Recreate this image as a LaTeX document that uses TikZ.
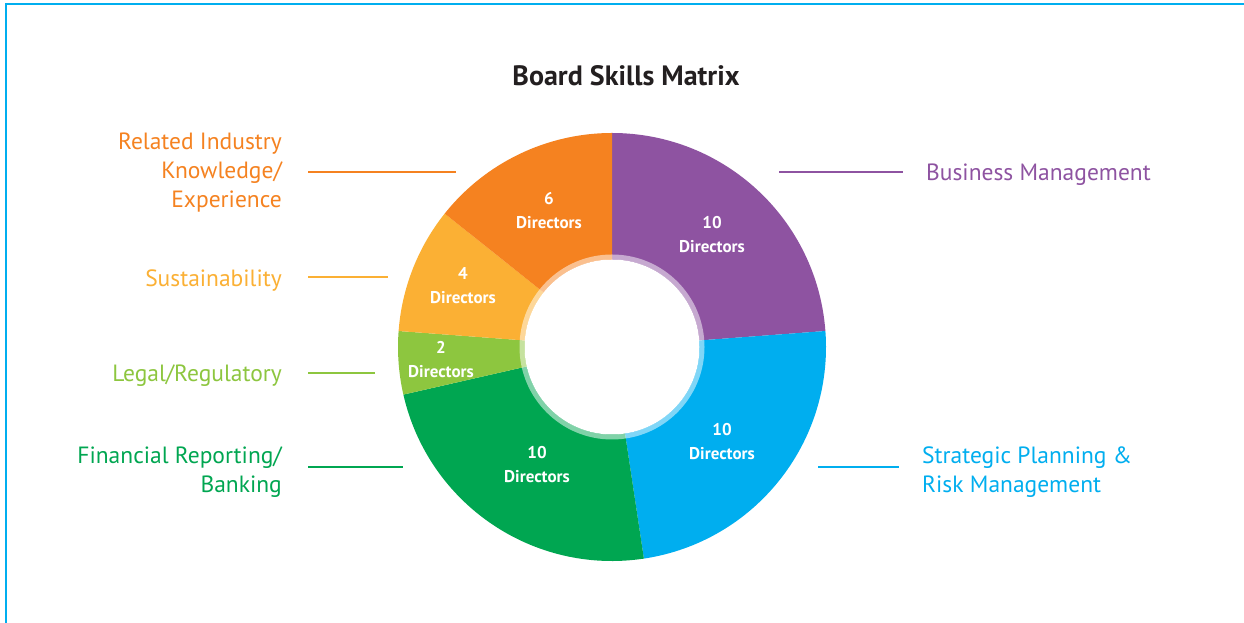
\documentclass[tikz,border=0pt]{standalone}
\usepackage{fontspec}
\setmainfont{PT Sans}
\definecolor{cPurple}{HTML}{8E53A1}
\definecolor{cBlue}{HTML}{00AEEF}
\definecolor{cGreen}{HTML}{00A651}
\definecolor{cLime}{HTML}{8DC63F}
\definecolor{cYellow}{HTML}{FBB034}
\definecolor{cOrange}{HTML}{F58220}
\definecolor{cFrame}{HTML}{00AEEF}
\definecolor{cTitle}{HTML}{231F20}
\tikzset{
  seglabel/.style={text=white, align=center, inner sep=0pt, font=\fontsize{17}{24}\selectfont\bfseries},
  catlabelL/.style={anchor=east, align=right, inner sep=0pt, font=\fontsize{23.5}{29}\selectfont},
  catlabelR/.style={anchor=west, align=left, inner sep=0pt, font=\fontsize{23.5}{29}\selectfont},
  leader/.style={line width=2pt},
  titlestyle/.style={text=cTitle, inner sep=0pt, font=\fontsize{28}{32}\selectfont\bfseries},
}
\begin{document}
\begin{tikzpicture}[x=1pt,y=1pt]
\useasboundingbox (0,0) rectangle (1244,623);
\fill[white] (0,0) rectangle (1244,623);
% frame
\coordinate (fA) at (6,0);
\coordinate (fB) at (6,619);
\coordinate (fC) at (1244,619);
\draw[cFrame, line width=2.2pt] (fA) -- (fB) -- (fC);
% donut
\coordinate (c) at (612,276);
\def\R{214}
\fill[cPurple] (c) -- ++(90:\R) arc[start angle=90, end angle=4.286, radius=\R] -- cycle;
\fill[cBlue] (c) -- ++(4.286:\R) arc[start angle=4.286, end angle=-81.429, radius=\R] -- cycle;
\fill[cGreen] (c) -- ++(-81.429:\R) arc[start angle=-81.429, end angle=-167.143, radius=\R] -- cycle;
\fill[cLime] (c) -- ++(-167.143:\R) arc[start angle=-167.143, end angle=-184.286, radius=\R] -- cycle;
\fill[cYellow] (c) -- ++(-184.286:\R) arc[start angle=-184.286, end angle=-218.571, radius=\R] -- cycle;
\fill[cOrange] (c) -- ++(-218.571:\R) arc[start angle=-218.571, end angle=-270, radius=\R] -- cycle;
\fill[white, opacity=0.5, even odd rule] (c) circle[radius=92.5] (c) circle[radius=87.5];
\fill[white] (c) circle[radius=87.5];
% title
\node[titlestyle] (title) at (626,547) {Board Skills Matrix};
% segment labels
\node[seglabel] (sBM) at (712,388) {10\\Directors};
\node[seglabel] (sSP) at (722,181) {10\\Directors};
\node[seglabel] (sFR) at (537,158) {10\\Directors};
\node[seglabel] (sLR) at (441,263.5) {2\\Directors};
\node[seglabel] (sSU) at (463,337) {4\\Directors};
\node[seglabel] (sRI) at (549,412.5) {6\\Directors};
% category labels
\node[catlabelL, text=cOrange] (lRI) at (282,450) {Related Industry\\Knowledge/\\Experience};
\node[catlabelL, text=cYellow] (lSU) at (282,342) {Sustainability};
\node[catlabelL, text=cLime] (lLR) at (282,247.5) {Legal/Regulatory};
\node[catlabelL, text=cGreen] (lFR) at (282,150.5) {Financial Reporting/\\Banking};
\node[catlabelR, text=cPurple] (lBM) at (926,448) {Business Management};
\node[catlabelR, text=cBlue] (lSP) at (922,150.5) {Strategic Planning \&\\Risk Management};
% leaders
\coordinate (aRI) at (308,451); \coordinate (bRI) at (456,451);
\coordinate (aSU) at (308,346); \coordinate (bSU) at (388,346);
\coordinate (aLR) at (308,250); \coordinate (bLR) at (375,250);
\coordinate (aFR) at (308,156); \coordinate (bFR) at (403,156);
\coordinate (aBM) at (779,451); \coordinate (bBM) at (903,451);
\coordinate (aSP) at (818,156); \coordinate (bSP) at (899,156);
\draw[leader, cOrange] (aRI) -- (bRI);
\draw[leader, cYellow] (aSU) -- (bSU);
\draw[leader, cLime] (aLR) -- (bLR);
\draw[leader, cGreen] (aFR) -- (bFR);
\draw[leader, cPurple] (aBM) -- (bBM);
\draw[leader, cBlue] (aSP) -- (bSP);
\end{tikzpicture}
\end{document}
